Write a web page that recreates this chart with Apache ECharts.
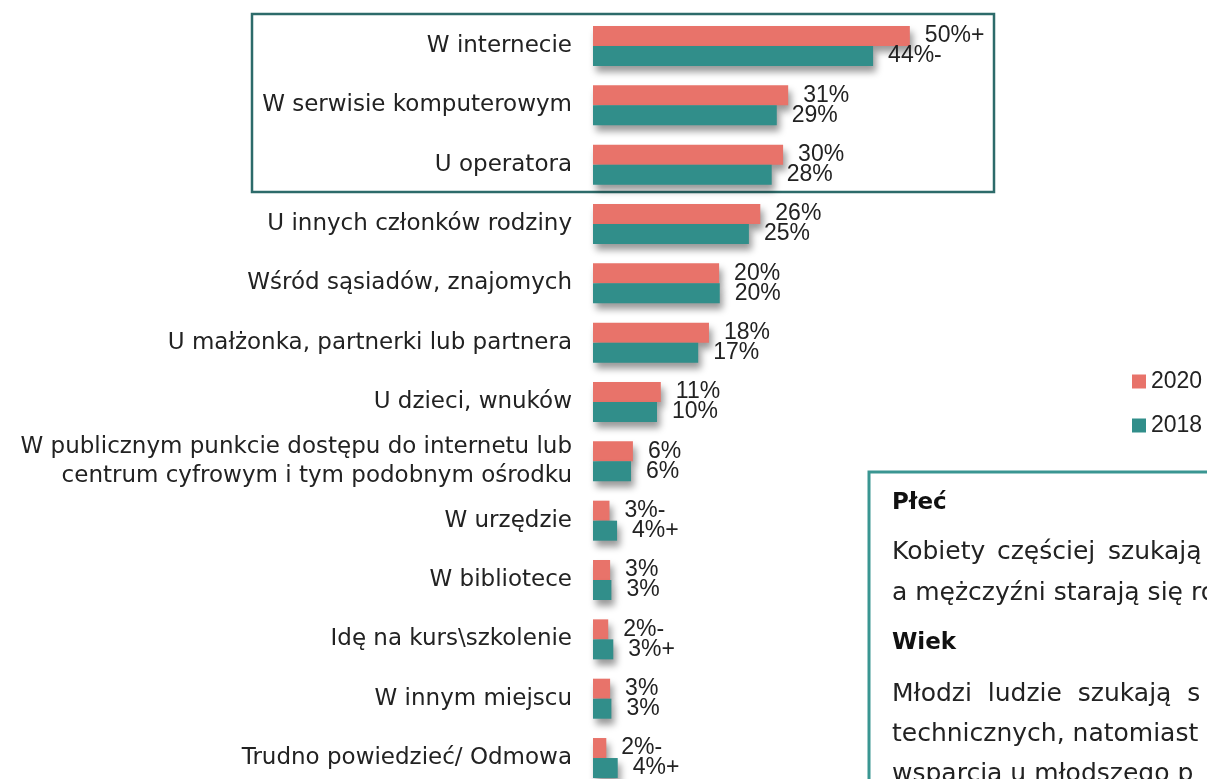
<!DOCTYPE html>
<html>
<head>
<meta charset="utf-8">
<script src="https://cdn.jsdelivr.net/npm/echarts@6/dist/echarts.min.js"></script>
<style>
  html, body { margin: 0; padding: 0; background: #fff; }
  #chart { width: 1207px; height: 779px; }
</style>
</head>
<body>
<div id="chart"></div>
<script>
// categories, top to bottom
const categories = [
  'W internecie',
  'W serwisie komputerowym',
  'U operatora',
  'U innych członków rodziny',
  'Wśród sąsiadów, znajomych',
  'U małżonka, partnerki lub partnera',
  'U dzieci, wnuków',
  'W publicznym punkcie dostępu do internetu lub\ncentrum cyfrowym i tym podobnym ośrodku',
  'W urzędzie',
  'W bibliotece',
  'Idę na kurs\\szkolenie',
  'W innym miejscu',
  'Trudno powiedzieć/ Odmowa',
]

// values (percent)
const values2020 = [50.0, 30.8, 30.0, 26.4, 19.9, 18.3, 10.7, 6.3, 2.6, 2.7, 2.4, 2.7, 2.1]
const values2018 = [44.2, 29.0, 28.2, 24.6, 20.0, 16.6, 10.1, 6.0, 3.8, 2.9, 3.2, 2.9, 3.9]

// printed labels (with significance markers)
const labels2020 = ['50%+', '31%', '30%', '26%', '20%', '18%', '11%', '6%', '3%-', '3%', '2%-', '3%', '2%-']
const labels2018 = ['44%-', '29%', '28%', '25%', '20%', '17%', '10%', '6%', '4%+', '3%', '3%+', '3%', '4%+']

const COLOR_2020 = '#E8736A'
const COLOR_2018 = '#318E8A'
const textColor = '#222'
const catFont = 'DejaVu Sans'
const numFont = 'Liberation Sans'

const chart = echarts.init(document.getElementById('chart'), null, { renderer: 'canvas' })

const barShadow = {
  shadowColor: 'rgba(0,0,0,0.4)',
  shadowBlur: 7,
  shadowOffsetX: 3,
  shadowOffsetY: 6,
}

function valueLabel(texts) {
  return {
    show: true,
    position: 'right',
    distance: 15,
    color: textColor,
    fontFamily: numFont,
    fontSize: 23,
    formatter: (p) => texts[p.dataIndex],
  }
}

// plain text line in the side note
function noteText(text, left, top, bold) {
  return {
    type: 'text', left: left, top: top,
    style: {
      text: text,
      fill: bold ? '#111' : textColor,
      font: bold ? 'bold 23px "DejaVu Sans"' : '25px "DejaVu Sans"',
    },
  }
}

const option = {
  backgroundColor: '#fff',
  animation: false,
  grid: { left: 593, top: 16.3, width: 602, height: 771.4, outerBoundsMode: 'none', containLabel: false },
  legend: {
    orient: 'vertical',
    left: 1127,
    top: 365,
    itemWidth: 14,
    itemHeight: 14,
    itemGap: 21,
    icon: 'rect',
    data: ['2020', '2018'],
    textStyle: { color: textColor, fontFamily: numFont, fontSize: 23, lineHeight: 22, padding: [0, 0, 0, 0] },
  },
  xAxis: {
    type: 'value',
    min: 0,
    max: 95,
    show: false,
  },
  yAxis: {
    type: 'category',
    inverse: true,
    data: categories,
    axisLine: { show: false },
    axisTick: { show: false },
    splitLine: { show: false },
    axisLabel: {
      color: textColor,
      fontFamily: catFont,
      fontSize: 23,
      lineHeight: 29,
      margin: 21,
      align: 'right',
    },
  },
  series: [
    {
      name: '2020',
      type: 'bar',
      data: values2020,
      barWidth: 20,
      barGap: '0%',
      itemStyle: Object.assign({ color: COLOR_2020 }, barShadow),
      label: valueLabel(labels2020),
    },
    {
      name: '2018',
      type: 'bar',
      data: values2018,
      barWidth: 20,
      barGap: '0%',
      itemStyle: Object.assign({ color: COLOR_2018 }, barShadow),
      label: valueLabel(labels2018),
    },
  ],
  graphic: [
    // frame around the first three answers
    {
      type: 'rect',
      shape: { x: 252, y: 14, width: 742, height: 178 },
      style: { fill: 'none', stroke: '#2D6B6A', lineWidth: 2.5 },
      z: 0,
    },
    // side note box (cut by the right edge)
    {
      type: 'rect',
      shape: { x: 869, y: 472, width: 400, height: 400 },
      style: { fill: 'none', stroke: '#3A9692', lineWidth: 3 },
    },
    noteText('Płeć', 892, 492, true),
    // justified line, words placed one by one
    noteText('Kobiety', 892, 540),
    noteText('częściej', 997, 540),
    noteText('szukają', 1108, 540),
    noteText('a mężczyźni starają się ro', 892, 581),
    noteText('Wiek', 892, 632, true),
    noteText('Młodzi  ludzie  szukają  s', 892, 682),
    noteText('technicznych, natomiast', 892, 722),
    noteText('wsparcia u młodszego p', 892, 762),
  ],
}

chart.setOption(option)
</script>
</body>
</html>
